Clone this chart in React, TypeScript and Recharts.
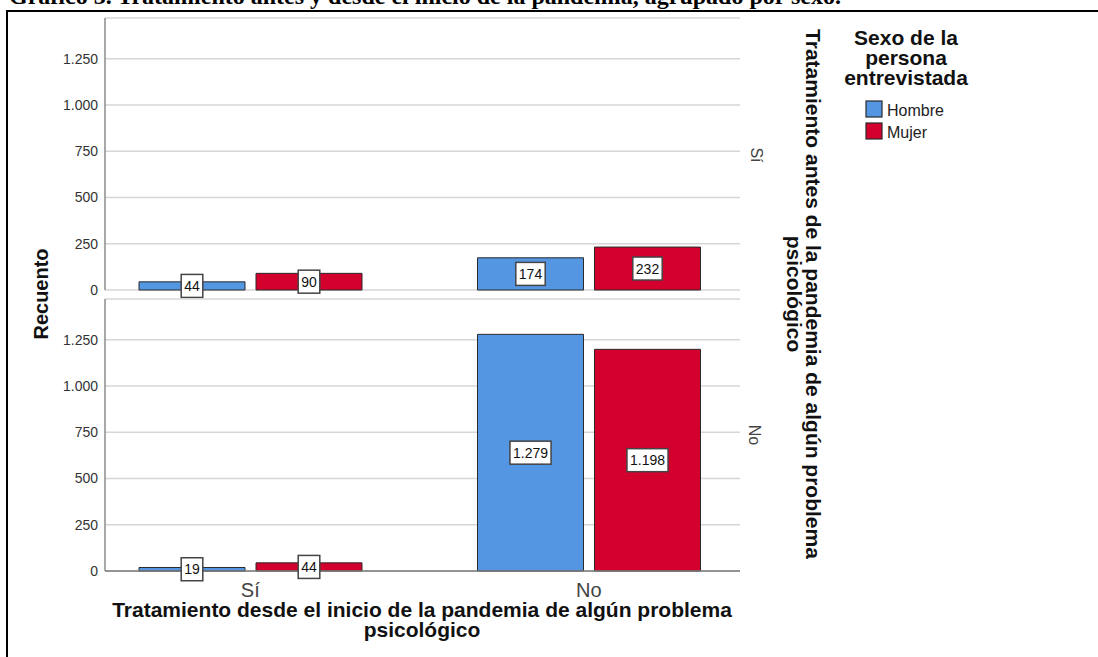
import React from "react";
import { BarChart, Bar, XAxis, YAxis, CartesianGrid, LabelList } from "recharts";

// Tratamiento desde el inicio de la pandemia (eje X)
const categories = ["Sí", "No"];
// Tratamiento antes de la pandemia (paneles)
const panelLabels = ["Sí", "No"];
const hombreAntesSi = [44, 174];
const mujerAntesSi = [90, 232];
const hombreAntesNo = [19, 1279];
const mujerAntesNo = [44, 1198];
const yTicks = [0, 250, 500, 750, 1000, 1250];
const yMax = 1470;

const series = [
  { key: "hombre", name: "Hombre", color: "#5596E3" },
  { key: "mujer", name: "Mujer", color: "#D3002E" },
];

const FONT = "'Liberation Sans', Arial, sans-serif";

const fmt = (v: number) => String(v).replace(/\B(?=(\d{3})+(?!\d))/g, ".");

const buildRows = (h: number[], m: number[]) =>
  categories.map((c, i) => ({ cat: c, hombre: h[i], mujer: m[i] }));

const topRows = buildRows(hombreAntesSi, mujerAntesSi);
const bottomRows = buildRows(hombreAntesNo, mujerAntesNo);

const ValueBox = (props: any) => {
  const { x, y, width, height, value } = props;
  const text = fmt(value);
  const digits = text.replace(/\./g, "").length;
  const dots = text.length - digits;
  const w = digits * 7.8 + dots * 3.9 + 6;
  const h = 23;
  const cx = x + width / 2;
  const cy = y + height / 2;
  return (
    <g>
      <rect x={cx - w / 2} y={cy - h / 2} width={w} height={h} fill="#fff" stroke="#444" strokeWidth={1.5} />
      <text x={cx} y={cy + 5} textAnchor="middle" fontSize={14} fontFamily={FONT} fill="#111">
        {text}
      </text>
    </g>
  );
};

function Panel({ rows, top, height, marginTop, marginBottom, showX }: any) {
  return (
    <div style={{ position: "absolute", left: 0, top }}>
      <BarChart
        width={745}
        height={height}
        data={rows}
        margin={{ top: marginTop, right: 5, left: 0, bottom: marginBottom }}
        barCategoryGap={58}
        barGap={11}
      >
        <CartesianGrid horizontal vertical={false} stroke="#d6d6d6" strokeWidth={1.5} />
        <XAxis
          dataKey="cat"
          height={showX ? 30 : 0}
          padding={{ left: -24, right: -18 }}
          tick={showX ? { fontSize: 20, fill: "#444", fontFamily: FONT } : false}
          tickLine={false}
          tickSize={0}
          tickMargin={12}
          axisLine={{ stroke: "#7a7a7a", strokeWidth: 1.5 }}
        />
        <YAxis
          width={105}
          domain={[0, yMax]}
          ticks={yTicks}
          tickFormatter={fmt}
          tickLine={false}
          tickSize={0}
          tickMargin={7}
          tick={{ fontSize: 14, fill: "#333", fontFamily: FONT }}
          axisLine={{ stroke: "#8c8c8c", strokeWidth: 1.5 }}
        />
        {series.map((s) => (
          <Bar key={s.key} dataKey={s.key} name={s.name} fill={s.color} stroke="#2a2a2a" strokeWidth={1} isAnimationActive={false}>
            <LabelList dataKey={s.key} content={ValueBox} />
          </Bar>
        ))}
      </BarChart>
    </div>
  );
}

export default function App() {
  return (
    <div
      style={{
        position: "absolute",
        left: 0,
        top: 0,
        width: 1098,
        height: 657,
        background: "#fff",
        overflow: "hidden",
        fontFamily: FONT,
      }}
    >
      <div
        style={{
          position: "absolute",
          left: 6,
          top: 10,
          width: 1200,
          height: 700,
          borderLeft: "2px solid #000",
          borderTop: "2px solid #000",
        }}
      />
      <Panel rows={topRows} top={0} height={300} marginTop={18} marginBottom={10} showX={false} />
      <Panel rows={bottomRows} top={0} height={657} marginTop={299} marginBottom={56} showX />
      <svg width={1098} height={657} style={{ position: "absolute", left: 0, top: 0, pointerEvents: "none" }}>
        <text x={9} y={4} fontFamily="'Liberation Serif', 'Times New Roman', serif" fontWeight="bold" fontSize={24} fill="#000">
          Gráfico 3. Tratamiento antes y desde el inicio de la pandemia, agrupado por sexo.
        </text>
        <text transform="translate(48,294) rotate(-90)" textAnchor="middle" fontSize={20} fontWeight="bold" fill="#111">
          Recuento
        </text>
        <text x={422} y={617} textAnchor="middle" fontSize={21} fontWeight="bold" fill="#111">
          Tratamiento desde el inicio de la pandemia de algún problema
        </text>
        <text x={422} y={637} textAnchor="middle" fontSize={21} fontWeight="bold" fill="#111">
          psicológico
        </text>
        <text transform="translate(751,155) rotate(90)" textAnchor="middle" fontSize={16} fill="#444">
          {panelLabels[0]}
        </text>
        <text transform="translate(749,435) rotate(90)" textAnchor="middle" fontSize={16} fill="#444">
          {panelLabels[1]}
        </text>
        <text transform="translate(806,294) rotate(90)" textAnchor="middle" fontSize={21} fontWeight="bold" fill="#111">
          Tratamiento antes de la pandemia de algún problema
        </text>
        <text transform="translate(787,294) rotate(90)" textAnchor="middle" fontSize={21} fontWeight="bold" fill="#111">
          psicológico
        </text>
        {["Sexo de la", "persona", "entrevistada"].map((line, i) => (
          <text key={line} x={906} y={45 + i * 20} textAnchor="middle" fontSize={21} fontWeight="bold" fill="#111">
            {line}
          </text>
        ))}
        {series.map((s, i) => (
          <g key={s.key}>
            <rect x={866} y={101 + i * 22} width={16} height={16} fill={s.color} stroke="#2a2a2a" strokeWidth={1.2} />
            <text x={887} y={116 + i * 22} fontSize={16} fill="#222">
              {s.name}
            </text>
          </g>
        ))}
      </svg>
    </div>
  );
}
